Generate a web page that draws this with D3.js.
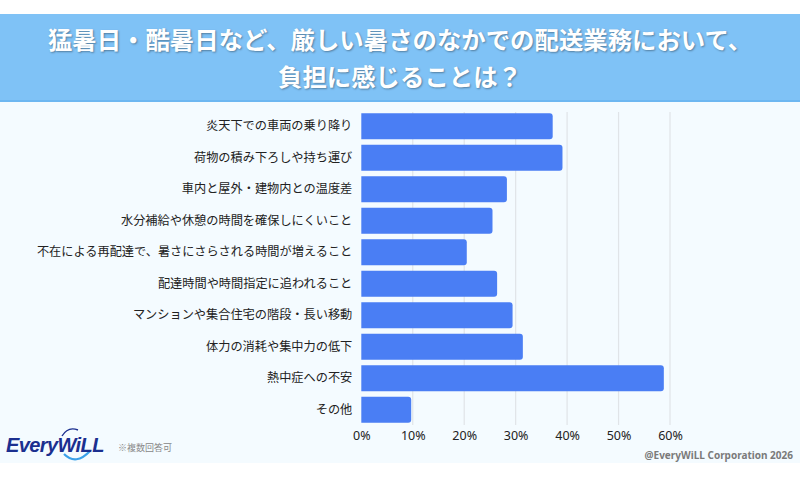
<!DOCTYPE html>
<html lang="ja">
<head>
<meta charset="UTF-8">
<title>配送業務の負担</title>
<script src="https://cdn.jsdelivr.net/npm/d3@7"></script>
<style>
  body { margin: 0; background: #fff; }
  svg text { font-family: "Noto Sans CJK JP", "Noto Sans", sans-serif; }
</style>
</head>
<body>
<script type="text/javascript">
  // data
  var categories = [
    "炎天下での車両の乗り降り",
    "荷物の積み下ろしや持ち運び",
    "車内と屋外・建物内との温度差",
    "水分補給や休憩の時間を確保しにくいこと",
    "不在による再配達で、暑さにさらされる時間が増えること",
    "配達時間や時間指定に追われること",
    "マンションや集合住宅の階段・長い移動",
    "体力の消耗や集中力の低下",
    "熱中症への不安",
    "その他"
  ];
  var values = [37.2, 39.1, 28.3, 25.5, 20.5, 26.4, 29.4, 31.4, 58.8, 9.7];
  var ticks = [0, 10, 20, 30, 40, 50, 60];
  var titleLines = ["猛暑日・酷暑日など、厳しい暑さのなかでの配送業務において、", "負担に感じることは？"];

  var w = 800;
  var h = 478;

  var svg = d3.select("body")
    .append("svg")
    .attr("width", w)
    .attr("height", h);

  // background panels
  svg.append("rect").attr("x", 0).attr("y", 100).attr("width", w).attr("height", 363).attr("fill", "#f4fbff");
  svg.append("rect").attr("x", 0).attr("y", 14).attr("width", w).attr("height", 88).attr("fill", "#7fc2f6");
  svg.append("rect").attr("x", 0).attr("y", 100).attr("width", w).attr("height", 2).attr("fill", "#6db7f1");

  // title
  svg.selectAll(".title")
    .data(titleLines)
    .enter()
    .append("text")
    .attr("class", "title")
    .attr("x", w / 2)
    .attr("y", function(d, i) { return 49 + i * 37; })
    .attr("text-anchor", "middle")
    .attr("fill", "#fff")
    .attr("font-size", 24.4)
    .attr("font-weight", "bold")
    .style("text-shadow", "1px 1px 2px rgba(0,0,0,0.35)")
    .text(function(d) { return d; });

  var xScale = d3.scaleLinear()
    .domain([0, 60])
    .range([361.3, 670]);

  var yScale = d3.scaleBand()
    .domain(categories)
    .range([110.5, 425.5])
    .paddingInner(0.18)
    .paddingOuter(0.09);

  // grid
  svg.selectAll(".grid")
    .data(ticks.slice(1))
    .enter()
    .append("line")
    .attr("x1", function(d) { return xScale(d); })
    .attr("x2", function(d) { return xScale(d); })
    .attr("y1", 112)
    .attr("y2", 425)
    .attr("stroke", "#e0e4e8")
    .attr("stroke-width", 1.2);

  // x axis
  var xAxis = d3.axisBottom(xScale)
    .tickValues(ticks)
    .tickFormat(function(d) { return d + "%"; })
    .tickSize(0)
    .tickPadding(0);

  var gx = svg.append("g")
    .attr("transform", "translate(0,426)")
    .call(xAxis);
  gx.select(".domain").remove();
  gx.selectAll("text")
    .attr("dy", "0.6em")
    .attr("y", 6)
    .attr("fill", "#222")
    .attr("font-size", 12.5)
    .style("font-family", "'Noto Sans', sans-serif");

  // y axis labels
  var yAxis = d3.axisLeft(yScale).tickSize(0).tickPadding(9);
  var gy = svg.append("g")
    .attr("transform", "translate(361.3,0)")
    .call(yAxis);
  gy.select(".domain").remove();
  gy.selectAll("text")
    .attr("fill", "#222")
    .attr("font-size", 12.2);

  // bars with rounded right end
  function barPath(d, i) {
    var x0 = xScale(0), x1 = xScale(d), y0 = yScale(categories[i]), bh = yScale.bandwidth(), r = 3;
    return "M" + x0 + "," + y0 +
      "H" + (x1 - r) + "Q" + x1 + "," + y0 + " " + x1 + "," + (y0 + r) +
      "V" + (y0 + bh - r) + "Q" + x1 + "," + (y0 + bh) + " " + (x1 - r) + "," + (y0 + bh) +
      "H" + x0 + "Z";
  }

  svg.selectAll(".bar")
    .data(values)
    .enter()
    .append("path")
    .attr("class", "bar")
    .attr("d", barPath)
    .attr("fill", "#4a7ef4");

  // logo
  var logo = svg.append("g");
  logo.append("path")
    .attr("d", "M64,454 Q76,466 90,451")
    .attr("fill", "none")
    .attr("stroke", "#3aa0e8")
    .attr("stroke-width", 2.2);
  logo.append("path")
    .attr("d", "M62,436 Q68,426 78,430")
    .attr("fill", "none")
    .attr("stroke", "#1b2f8f")
    .attr("stroke-width", 1.4);
  logo.append("text")
    .attr("x", 6)
    .attr("y", 452)
    .attr("fill", "#1b2f8f")
    .attr("font-size", 20)
    .attr("font-style", "italic")
    .attr("font-weight", "bold")
    .attr("letter-spacing", -0.6)
    .style("font-family", "'Liberation Sans', sans-serif")
    .text("EveryWiLL");

  svg.append("text")
    .attr("x", 118)
    .attr("y", 451)
    .attr("fill", "#888")
    .attr("font-size", 9)
    .text("※複数回答可");

  svg.append("text")
    .attr("x", 793)
    .attr("y", 459)
    .attr("text-anchor", "end")
    .attr("fill", "#7a7a7a")
    .attr("font-size", 10)
    .attr("font-weight", "bold")
    .style("font-family", "'Noto Sans', sans-serif")
    .text("@EveryWiLL Corporation 2026");
</script>
</body>
</html>
